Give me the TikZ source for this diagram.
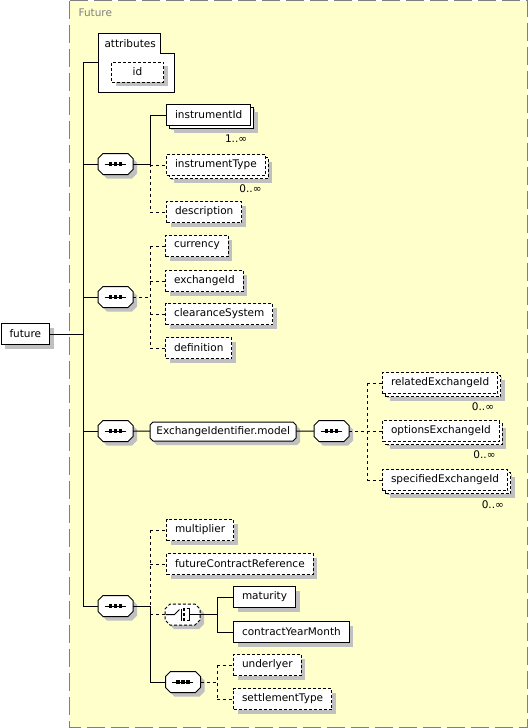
\documentclass[tikz,border=0pt]{standalone}
\usepackage{fontspec}
\setmainfont{DejaVu Sans}
\usetikzlibrary{shadows, positioning}
\definecolor{panel}{HTML}{FFFFCC}
\definecolor{framegray}{HTML}{808080}
\definecolor{shadowgray}{HTML}{C0C0C0}
\tikzstyle{conn} = [line width=1pt]
\tikzstyle{optconn} = [line width=1pt, dash pattern=on 3pt off 3pt]
\tikzstyle{boxshadow} = [general shadow={shadow xshift=4pt, shadow yshift=-4pt, fill=shadowgray}]
\tikzstyle{elem} = [rectangle, draw=black, fill=white, line width=1pt, minimum height=21pt, inner xsep=8.5pt, inner ysep=0pt, anchor=west, boxshadow]
\tikzstyle{optelem} = [elem, dash pattern=on 3pt off 2pt]
\tikzstyle{multi} = [general shadow={shadow xshift=7pt, shadow yshift=-7pt, fill=shadowgray}, general shadow={shadow xshift=3pt, shadow yshift=-3pt, fill=white, draw=black, line width=1pt}]
\tikzstyle{optmulti} = [general shadow={shadow xshift=7pt, shadow yshift=-7pt, fill=shadowgray}, general shadow={shadow xshift=3pt, shadow yshift=-3pt, fill=white, draw=black, line width=1pt, dash pattern=on 3pt off 2pt}]
\tikzstyle{mult} = [anchor=north east, inner sep=0pt]
\tikzstyle{hook} = [rectangle, inner sep=0pt, minimum width=35pt, minimum height=21pt]
\tikzstyle{grouptext} = [rectangle, inner sep=0pt, minimum width=146pt, minimum height=19pt, anchor=west]
\tikzset{
  pics/octa/.style={code={
    \fill[shadowgray, shift={(4,4)}] (-17.5,-5.5) -- (-12.5,-10.5) -- (12.5,-10.5) -- (17.5,-5.5) -- (17.5,5.5) -- (12.5,10.5) -- (-12.5,10.5) -- (-17.5,5.5) -- cycle;
    \draw[line width=1pt, fill=white, pic actions] (-17.5,-5.5) -- (-12.5,-10.5) -- (12.5,-10.5) -- (17.5,-5.5) -- (17.5,5.5) -- (12.5,10.5) -- (-12.5,10.5) -- (-17.5,5.5) -- cycle;
  }},
  pics/seqsym/.style={code={
    \draw[line width=1pt] (-11,0) -- (10,0);
    \foreach \dx in {-5,0,5} \fill ({\dx-1.7},-1.7) rectangle ({\dx+1.7},1.7);
  }},
  pics/choicesym/.style={code={
    \draw[line width=1pt] (-17,0) -- (-8,0) -- (-3,-5);
    \draw[line width=1pt] (-1,-6) -- (-1,6);
    \foreach \dy in {-5,0,5} \fill (0.3,{\dy-1.3}) rectangle (2.9,{\dy+1.3});
    \draw[line width=1pt] (4,-6) -- (7,-6) -- (7,6) -- (4,6);
    \draw[line width=1pt] (7,0) -- (17,0);
  }}
}

\begin{document}
\begin{tikzpicture}[x=1pt, y=-1pt, every node/.style={font=\fontsize{10.5}{12}\selectfont}]
\useasboundingbox (0,0) rectangle (528,728);

% Frame
\draw[draw=framegray, fill=panel, line width=1pt, dash pattern=on 18pt off 6pt] (69.5,0.5) rectangle (527.5,727.5);
\node[anchor=west, text=framegray] (flabel) at (75,13) {Future};

% Root element
\node[elem] (future) at (0.5,334) {future};
\coordinate (trunk) at (83,0);
\coordinate (b1) at (150,0);
\coordinate (b2) at (367,0);
\coordinate (b3) at (217,0);

% Attributes
\draw[line width=1pt, fill=white] (98,33) -- (160,33) -- (160,53) -- (174,53) -- (174,92) -- (98,92) -- cycle;
\node[anchor=west] (attr) at (101,44) {attributes};
\node[optelem, minimum width=52pt, minimum height=20pt, inner xsep=0pt] (id) at (111,72) {id};
\coordinate (attrin) at (98,62);

% Sequences
\path (115.5,164) pic {octa} pic {seqsym} node[hook] (s1) {};
\path (115.5,297) pic {octa} pic {seqsym} node[hook] (s2) {};
\path (115.5,431) pic {octa} pic {seqsym} node[hook] (s3) {};
\path (115.5,606) pic {octa} pic {seqsym} node[hook] (s4) {};

% First sequence
\node[elem, multi] (instrumentId) at (166,115) {instrumentId};
\node[mult] (m1) at ([xshift=-4pt, yshift=-9pt]instrumentId.south east) {1..∞};
\node[optelem, optmulti] (instrumentType) at (166,165) {instrumentType};
\node[mult] (m2) at ([xshift=-4pt, yshift=-9pt]instrumentType.south east) {0..∞};
\node[optelem] (description) at (166,212) {description};

% Second sequence
\node[optelem] (currency) at (165,246) {currency};
\node[optelem] (exchangeId) at (165,281) {exchangeId};
\node[optelem] (clearanceSystem) at (165,314) {clearanceSystem};
\node[optelem] (definition) at (165,348) {definition};

% Third sequence
\fill[shadowgray, shift={(4,4)}] (150,425) -- (153,422) -- (293,422) -- (296,425) -- (296,438) -- (293,441) -- (153,441) -- (150,438) -- cycle;
\draw[line width=1pt, fill=white] (150,425) -- (153,422) -- (293,422) -- (296,425) -- (296,438) -- (293,441) -- (153,441) -- (150,438) -- cycle;
\node[grouptext] (exmodel) at (150,431.5) {ExchangeIdentifier.model};
\path (331.5,431) pic {octa} pic {seqsym} node[hook] (s3b) {};
\node[optelem, optmulti] (relatedExchangeId) at (382,383) {relatedExchangeId};
\node[mult] (m3) at ([xshift=-4pt, yshift=-9pt]relatedExchangeId.south east) {0..∞};
\node[optelem, optmulti] (optionsExchangeId) at (382,431) {optionsExchangeId};
\node[mult] (m4) at ([xshift=-4pt, yshift=-9pt]optionsExchangeId.south east) {0..∞};
\node[optelem, optmulti] (specifiedExchangeId) at (382,480) {specifiedExchangeId};
\node[mult] (m5) at ([xshift=-4pt, yshift=-9pt]specifiedExchangeId.south east) {0..∞};

% Fourth sequence
\node[optelem] (multiplier) at (166,530) {multiplier};
\node[optelem] (futureContractReference) at (166,564) {futureContractReference};
\path (182.5,614.5) pic[dash pattern=on 3pt off 2pt] {octa} pic {choicesym} node[hook] (choice) {};
\node[elem] (maturity) at (233,597) {maturity};
\node[elem] (contractYearMonth) at (233,632) {contractYearMonth};
\path (183,682) pic {octa} pic {seqsym} node[hook] (s5) {};
\node[optelem] (underlyer) at (233,665) {underlyer};
\node[optelem] (settlementType) at (233,699) {settlementType};

% Trunk
\draw[conn] (future) -- (future -| trunk);
\draw[conn] (attrin) -- (attrin -| trunk) -- (trunk |- s4) -- (s4);
\foreach \s in {s1,s2,s3}
  \draw[conn] (trunk |- \s) -- (\s);

% First sequence links
\draw[conn] (s1) -- (s1 -| b1);
\draw[conn] (b1 |- instrumentId) -- (b1 |- s1);
\draw[optconn] (b1 |- s1) -- (b1 |- description);
\draw[conn] (b1 |- instrumentId) -- (instrumentId);
\foreach \c in {instrumentType,description}
  \draw[optconn] (b1 |- \c) -- (\c);

% Second sequence links
\draw[optconn] (s2) -- (s2 -| b1);
\draw[optconn] (b1 |- currency) -- (b1 |- definition);
\foreach \c in {currency,exchangeId,clearanceSystem,definition}
  \draw[optconn] (b1 |- \c) -- (\c);

% Third sequence links
\draw[conn] (s3) -- (exmodel);
\draw[conn] (exmodel) -- (s3b);
\draw[optconn] (s3b) -- (s3b -| b2);
\draw[optconn] (b2 |- relatedExchangeId) -- (b2 |- specifiedExchangeId);
\foreach \c in {relatedExchangeId,optionsExchangeId,specifiedExchangeId}
  \draw[optconn] (b2 |- \c) -- (\c);

% Fourth sequence links
\draw[conn] (s4) -- (s4 -| b1);
\draw[optconn] (b1 |- multiplier) -- (b1 |- s4);
\draw[conn] (b1 |- s4) -- (b1 |- s5) -- (s5);
\foreach \c in {multiplier,futureContractReference,choice}
  \draw[optconn] (b1 |- \c) -- (\c);
\draw[conn] (choice) -- (choice -| b3);
\draw[conn] (b3 |- maturity) -- (b3 |- contractYearMonth);
\foreach \c in {maturity,contractYearMonth}
  \draw[conn] (b3 |- \c) -- (\c);
\draw[optconn] (s5) -- (s5 -| b3);
\draw[optconn] (b3 |- underlyer) -- (b3 |- settlementType);
\foreach \c in {underlyer,settlementType}
  \draw[optconn] (b3 |- \c) -- (\c);

\end{tikzpicture}
\end{document}
